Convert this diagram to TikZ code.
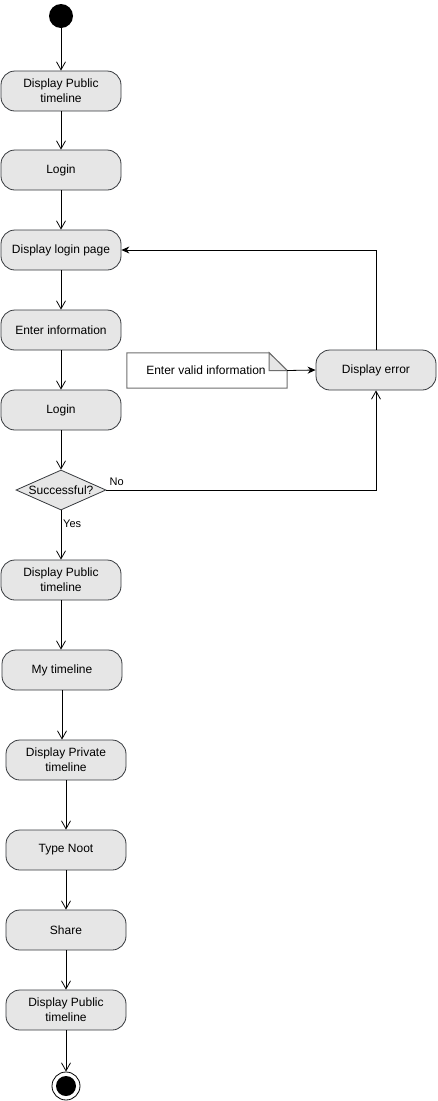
\documentclass[tikz,border=0pt]{standalone}
\usepackage{fontspec}
\setmainfont{Liberation Sans}
\usetikzlibrary{arrows.meta,shapes.geometric,calc}
\definecolor{actfill}{RGB}{230,230,230}
\definecolor{actline}{RGB}{54,57,61}
\definecolor{noteline}{RGB}{110,110,110}
\begin{document}
\begin{tikzpicture}[x=1pt,y=-1pt,
  txt/.style={font=\fontsize{12}{15}\selectfont},
  act/.style={txt, draw=actline, fill=actfill, rounded corners=14pt,
    minimum width=120pt, minimum height=40pt, align=center,
    inner sep=2pt, line width=0.8pt},
  decision/.style={diamond, draw=actline, fill=actfill, minimum width=90pt,
    minimum height=40pt, inner sep=0pt, line width=0.8pt},
  flow/.style={line width=0.8pt, -{Straight Barb[length=8pt,width=9pt]}},
  solidflow/.style={line width=0.8pt, -{Stealth[length=8pt,width=7pt]}},
  small/.style={font=\fontsize{11}{13}\selectfont, inner sep=1pt}]
\useasboundingbox (0,0) rectangle (438,1101);

% start and end states
\node[circle, fill=black, minimum size=24pt, inner sep=0pt] (start) at (61,16) {};
\node[circle, draw=black, line width=0.8pt, minimum size=28pt, inner sep=0pt] (end) at (66,1086) {};
\node[circle, fill=black, minimum size=20pt, inner sep=0pt] (endin) at (end) {};

% main activities
\node[act] (a1) at (61,91) {Display Public\\timeline};
\node[act] (a2) at (61,170) {Login};
\node[act] (a3) at (61,250) {Display login page};
\node[act] (a4) at (61,330) {Enter information};
\node[act] (a5) at (61,410) {Login};
\node[decision] (d) at (61,490) {};
\node[txt, inner sep=0pt] (dtext) at (d) {Successful?};
\node[act] (a6) at (61,580) {Display Public\\timeline};
\node[act] (a7) at (62,670) {My timeline};
\node[act] (a8) at (66,760) {Display Private\\timeline};
\node[act] (a9) at (66,850) {Type Noot};
\node[act] (a10) at (66,930) {Share};
\node[act] (a11) at (66,1010) {Display Public\\timeline};

% error branch
\node[act] (err) at (376,370) {Display error};
\node[txt, minimum width=160pt, minimum height=35pt, inner sep=0pt] (note) at (207,370.5) {};
\draw[draw=noteline, fill=white, line width=1pt]
  (note.north west) -- ($(note.north east)+(-18,0)$) -- ($(note.east)+(0,0)$)
  -- (note.south east) -- (note.south west) -- cycle;
\draw[draw=noteline, fill=actfill, line width=1pt]
  ($(note.north east)+(-18,0)$) -- ($(note.east)+(-18,0)$) -- (note.east) -- cycle;
\node[txt] (notetext) at (206,370) {Enter valid information};

% connectors
\draw[flow] (start) -- (a1);
\draw[flow] (a1) -- (a2);
\draw[flow] (a2) -- (a3);
\draw[flow] (a3) -- (a4);
\draw[flow] (a4) -- (a5);
\draw[flow] (a5) -- (d);
\draw[flow] (d) -- (a6);
\draw[flow] (a6.south) -- (a6.south |- a7.north);
\draw[flow] (a7.south) -- (a7.south |- a8.north);
\draw[flow] (a8) -- (a9);
\draw[flow] (a9) -- (a10);
\draw[flow] (a10) -- (a11);
\draw[flow] (a11) -- (end);

\draw[flow] (d.east) -- (err.south |- d.east) -- (err.south);
\draw[solidflow] (err.north) |- (a3.east);
\draw[solidflow] (note.east) -- (err.west);

% branch labels
\node[small, anchor=south west] (nolabel) at ($(d.east)+(2,-3)$) {No};
\node[small, anchor=west] (yeslabel) at ($(d.south)+(1,13)$) {Yes};
\end{tikzpicture}
\end{document}
